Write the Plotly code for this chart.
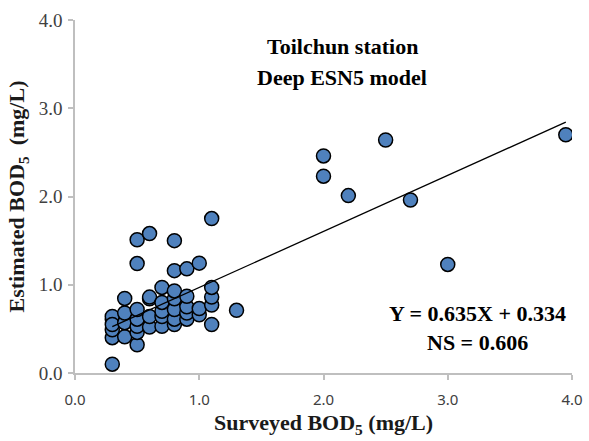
import plotly.graph_objects as go

surveyed = [0.3, 0.3, 0.3, 0.3, 0.3, 0.3,
            0.4, 0.4, 0.4, 0.4,
            0.5, 0.5, 0.5, 0.5, 0.5, 0.5, 0.5,
            0.6, 0.6, 0.6, 0.6, 0.6,
            0.7, 0.7, 0.7, 0.7, 0.7,
            0.8, 0.8, 0.8, 0.8, 0.8, 0.8, 0.8,
            0.9, 0.9, 0.9, 0.9, 0.9,
            1.0, 1.0, 1.0,
            1.1, 1.1, 1.1, 1.1, 1.1,
            1.3, 2.0, 2.0, 2.2, 2.5, 2.7, 3.0, 3.95]
estimated = [0.10, 0.40, 0.49, 0.61, 0.64, 0.55,
             0.41, 0.57, 0.68, 0.845,
             0.32, 0.46, 0.53, 0.61, 0.72, 1.24, 1.51,
             0.52, 0.64, 0.84, 0.86, 1.58,
             0.53, 0.64, 0.70, 0.80, 0.97,
             0.55, 0.61, 0.72, 0.84, 0.93, 1.16, 1.50,
             0.61, 0.68, 0.75, 0.87, 1.18,
             0.66, 0.73, 1.245,
             0.55, 0.77, 0.86, 0.97, 1.75,
             0.71, 2.23, 2.46, 2.01, 2.64, 1.96, 1.23, 2.70]

slope = 0.635
intercept = 0.334
x_ticks = [0, 1, 2, 3, 4]
tick_text = ["0.0", "1.0", "2.0", "3.0", "4.0"]

xmin, xmax = min(surveyed), max(surveyed)
fit_x = [xmin, xmax]
fit_y = [slope * v + intercept for v in fit_x]

fig = go.Figure()
fig.add_trace(go.Scatter(x=surveyed, y=estimated, mode="markers",
                         marker=dict(size=14, color="#4f81bd",
                                     line=dict(color="black", width=1.5)),
                         showlegend=False))
fig.add_trace(go.Scatter(x=fit_x, y=fit_y, mode="lines",
                         line=dict(color="black", width=1.3),
                         showlegend=False))

serif = "Liberation Serif, Times New Roman, serif"
axis_common = dict(range=[0, 4], tickvals=x_ticks, ticktext=tick_text,
                   showgrid=False, zeroline=False, showline=True,
                   linecolor="#bfbfbf", linewidth=1.5, ticks="outside",
                   ticklen=5, tickcolor="#bfbfbf", tickwidth=1.5,
                   automargin=False)

fig.update_layout(
    width=589, height=441,
    margin=dict(l=75, r=17, t=20, b=68),
    plot_bgcolor="white", paper_bgcolor="white",
    xaxis=dict(**axis_common,
               tickfont=dict(family="Noto Sans, DejaVu Sans, sans-serif",
                             size=15, color="#404040"),
               ticklabelstandoff=7,
               title=dict(text="<b>Surveyed BOD<sub>5</sub> (mg/L)</b>",
                          font=dict(family=serif, size=22, color="#1a1a1a"),
                          standoff=7)),
    yaxis=dict(**axis_common,
               tickfont=dict(family=serif, size=19, color="#404040"),
               ticklabelstandoff=2,
               title=dict(text="<b>Estimated BOD<sub>5</sub>  (mg/L)</b>",
                          font=dict(family=serif, size=22, color="#1a1a1a"),
                          standoff=8)),
    annotations=[
        dict(text="<b>Toilchun station</b>", x=342, y=32, xref="paper", yref="paper",
             xanchor="center", showarrow=False, font=dict(family=serif, size=22, color="black")),
        dict(text="<b>Deep ESN5 model</b>", x=342, y=63, xref="paper", yref="paper",
             xanchor="center", showarrow=False, font=dict(family=serif, size=22, color="black")),
        dict(text="<b>Y = 0.635X + 0.334</b>", x=477, y=328, xref="paper", yref="paper",
             xanchor="center", showarrow=False, font=dict(family=serif, size=22, color="black")),
        dict(text="<b>NS = 0.606</b>", x=477, y=357, xref="paper", yref="paper",
             xanchor="center", showarrow=False, font=dict(family=serif, size=22, color="black")),
    ],
)

# convert pixel annotation positions into paper coordinates
pw = 589 - 75 - 17
ph = 441 - 20 - 68
for a in fig.layout.annotations:
    a.x = (a.x - 75) / pw
    a.y = 1 - (a.y - 20) / ph

fig.write_html("out.html")
